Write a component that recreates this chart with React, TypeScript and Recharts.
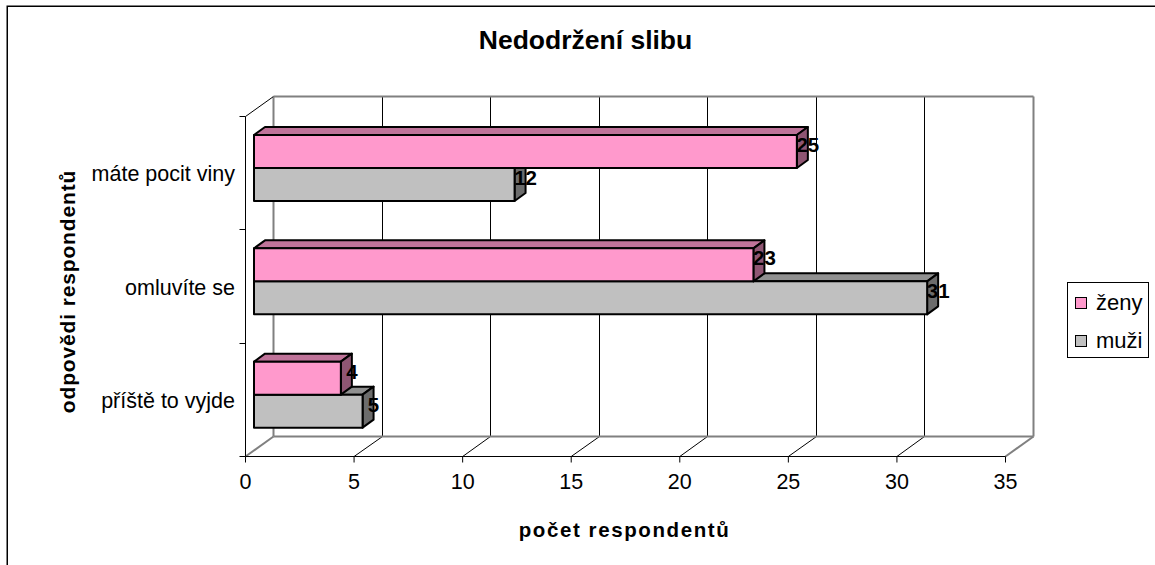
import { BarChart, Bar, XAxis, YAxis, CartesianGrid, Legend, LabelList } from 'recharts';

const categories = ['máte pocit viny', 'omluvíte se', 'příště to vyjde'];
const zeny = [25, 23, 4];
const muzi = [12, 31, 5];
const xTicks = [0, 5, 10, 15, 20, 25, 30, 35];

const chartData = categories.map((name, i) => ({ name, zeny: zeny[i], muzi: muzi[i] }));

const FONT = '"Liberation Sans", Arial, sans-serif';
const WIDTH = 1155;
const HEIGHT = 565;
const PLOT_LEFT = 245.5;
const PLOT_RIGHT = 1005.5;
const PLOT_TOP = 116.5;
const PLOT_BOTTOM = 456.5;
const Y_AXIS_WIDTH = 200;
const X_AXIS_HEIGHT = 60;
// wall depth of the fake 3D box
const DEPTH_X = 28;
const DEPTH_Y = 20;
// bars sit half way into the box
const BAR_SHIFT_X = 8.5;
const BAR_SHIFT_Y = 5.5;
const BAR_DEPTH_X = 11;
const BAR_DEPTH_Y = 8;
const BAND = (PLOT_BOTTOM - PLOT_TOP) / categories.length;

const pink = { front: '#FF99CC', top: '#BF7399', side: '#8F5673' };
const grey = { front: '#C0C0C0', top: '#909090', side: '#6C6C6C' };

const box3d = (colors: { front: string; top: string; side: string }) => (props: any) => {
    const x = props.x + BAR_SHIFT_X;
    const y = props.y - BAR_SHIFT_Y;
    const w = props.width;
    const h = props.height;
    const dx = BAR_DEPTH_X;
    const dy = BAR_DEPTH_Y;
    return (
        <g stroke="#000" strokeWidth={2} strokeLinejoin="round">
            <polygon fill={colors.top} points={`${x},${y} ${x + dx},${y - dy} ${x + w + dx},${y - dy} ${x + w},${y}`} />
            <polygon fill={colors.side} points={`${x + w},${y} ${x + w + dx},${y - dy} ${x + w + dx},${y + h - dy} ${x + w},${y + h}`} />
            <rect x={x} y={y} width={w} height={h} fill={colors.front} />
        </g>
    );
};

const valueLabel = (props: any) => (
    <text
        x={props.x + props.width + BAR_SHIFT_X + 11}
        y={props.y + props.height / 2 - 12.5}
        textAnchor="middle"
        dominantBaseline="central"
        fontFamily={FONT}
        fontWeight="bold"
        fontSize={20.5}
        fill="#000"
    >
        {props.value}
    </text>
);

// back wall line plus the short floor diagonal for every x tick
const gridLine = (props: any) => {
    const edge = props.index === 0 || props.index === xTicks.length - 1;
    const x = props.x1;
    const backX = Math.floor(x + DEPTH_X) + 0.5;
    const color = edge ? '#808080' : '#000';
    const sw = edge ? 2 : 1;
    return (
        <g key={props.key} fill="none">
            <line x1={backX} x2={backX} y1={PLOT_TOP - DEPTH_Y} y2={PLOT_BOTTOM - DEPTH_Y} stroke={color} strokeWidth={sw} />
            <line x1={x} x2={backX} y1={PLOT_BOTTOM} y2={PLOT_BOTTOM - DEPTH_Y} stroke={color} strokeWidth={sw} />
        </g>
    );
};

const CategoryTick = (props: any) => {
    const axisX = PLOT_LEFT;
    const yTop = Math.floor(props.y - BAND / 2) + 0.5;
    const last = props.index === categories.length - 1;
    return (
        <g>
            <line x1={axisX - 6} x2={axisX} y1={yTop} y2={yTop} stroke="#000" />
            {last && <line x1={axisX - 6} x2={axisX} y1={PLOT_BOTTOM} y2={PLOT_BOTTOM} stroke="#000" />}
            <text x={axisX - 10.5} y={props.y + 1} textAnchor="end" dominantBaseline="central" fontFamily={FONT} fontSize={21.5} fill="#000">
                {props.payload.value}
            </text>
        </g>
    );
};

const LegendBox = () => (
    <div style={{ width: 80, height: 74, border: '1px solid #000', background: '#fff', fontFamily: FONT, fontSize: 22, color: '#000', position: 'relative' }}>
        {[
            { name: 'ženy', color: pink.front, top: 13.5 },
            { name: 'muži', color: grey.front, top: 51.5 },
        ].map((item) => (
            <div key={item.name}>
                <div style={{ position: 'absolute', left: 7, top: item.top, width: 10, height: 10, border: '1.5px solid #000', background: item.color }} />
                <div style={{ position: 'absolute', left: 28, top: item.top - 7, lineHeight: '25px' }}>{item.name}</div>
            </div>
        ))}
    </div>
);

export default function App() {
    return (
        <div style={{ position: 'absolute', left: 0, top: 0 }}>
            <BarChart
                width={WIDTH}
                height={HEIGHT}
                data={chartData}
                layout="vertical"
                barSize={33}
                barGap={0}
                margin={{
                    top: PLOT_TOP,
                    bottom: HEIGHT - PLOT_BOTTOM - X_AXIS_HEIGHT,
                    left: PLOT_LEFT - Y_AXIS_WIDTH,
                    right: WIDTH - PLOT_RIGHT,
                }}
            >
                <rect x={7.25} y={6.25} width={1400} height={900} fill="none" stroke="#000" strokeWidth={1.5} />
                <text x={585.5} y={49} textAnchor="middle" fontFamily={FONT} fontWeight="bold" fontSize={26.5} fill="#000">
                    Nedodržení slibu
                </text>
                <line x1={PLOT_LEFT} x2={PLOT_LEFT + DEPTH_X} y1={PLOT_TOP} y2={PLOT_TOP - DEPTH_Y} stroke="#000" />
                <line x1={PLOT_LEFT + DEPTH_X} x2={PLOT_RIGHT + DEPTH_X} y1={PLOT_TOP - DEPTH_Y} y2={PLOT_TOP - DEPTH_Y} stroke="#808080" strokeWidth={2} />
                <line x1={PLOT_LEFT + DEPTH_X} x2={PLOT_RIGHT + DEPTH_X} y1={PLOT_BOTTOM - DEPTH_Y} y2={PLOT_BOTTOM - DEPTH_Y} stroke="#808080" strokeWidth={2} />
                <CartesianGrid horizontal={false} vertical={gridLine} />
                <XAxis
                    type="number"
                    domain={[0, 35]}
                    ticks={xTicks}
                    interval={0}
                    height={X_AXIS_HEIGHT}
                    stroke="#000"
                    tickSize={6}
                    tickMargin={11}
                    tick={{ fill: '#000', fontFamily: FONT, fontSize: 21.5 }}
                    label={{ value: 'počet respondentů', position: 'bottom', offset: 6, fontFamily: FONT, fontWeight: 'bold', fontSize: 20.5, fill: '#000', letterSpacing: 1.6, dx: -1 }}
                />
                <YAxis
                    type="category"
                    dataKey="name"
                    width={Y_AXIS_WIDTH}
                    interval={0}
                    stroke="#000"
                    tickLine={false}
                    tick={<CategoryTick />}
                    label={{ value: 'odpovědi respondentů', angle: -90, position: 'insideLeft', textAnchor: 'middle', fontFamily: FONT, fontWeight: 'bold', fontSize: 21, fill: '#000', letterSpacing: 0.85, dx: 17, dy: 5 }}
                />
                <Legend
                    layout="horizontal"
                    verticalAlign="middle"
                    align="center"
                    content={<LegendBox />}
                    wrapperStyle={{ left: 1067, top: 282, width: 82, height: 76 }}
                />
                <Bar dataKey="zeny" name="ženy" fill={pink.front} shape={box3d(pink)} zIndex={310} isAnimationActive={false}>
                    <LabelList dataKey="zeny" content={valueLabel} />
                </Bar>
                <Bar dataKey="muzi" name="muži" fill={grey.front} shape={box3d(grey)} zIndex={300} isAnimationActive={false}>
                    <LabelList dataKey="muzi" content={valueLabel} />
                </Bar>
            </BarChart>
        </div>
    );
}
